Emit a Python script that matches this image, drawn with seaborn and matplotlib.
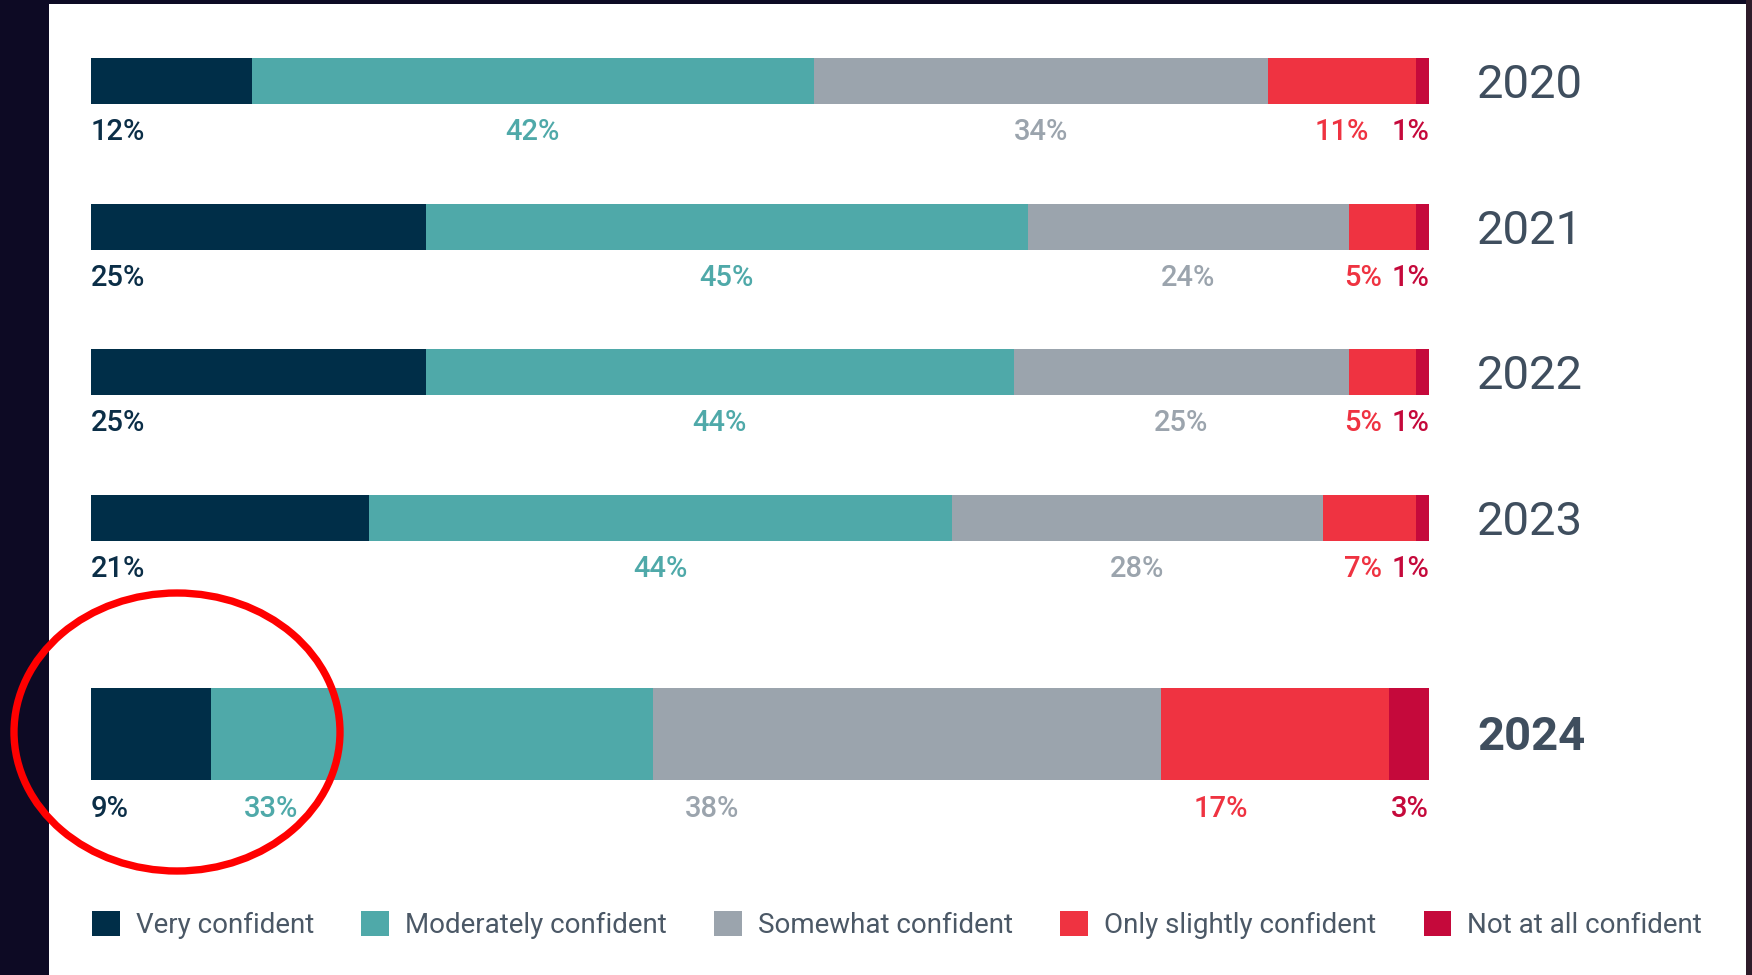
import numpy as np
import pandas as pd
import matplotlib
matplotlib.use("Agg")
import matplotlib.pyplot as plt
from matplotlib.patches import Rectangle, Ellipse, Patch
import seaborn as sns

# ---------------- data ----------------
years = ['2020', '2021', '2022', '2023', '2024']
very_confident = [12, 25, 25, 21, 9]
moderately_confident = [42, 45, 44, 44, 33]
somewhat_confident = [34, 24, 25, 28, 38]
only_slightly_confident = [11, 5, 5, 7, 17]
not_at_all_confident = [1, 1, 1, 1, 3]

categories = ['Very confident', 'Moderately confident', 'Somewhat confident',
              'Only slightly confident', 'Not at all confident']
colors = ['#002e48', '#4fa9a9', '#9ba4ad', '#ef3341', '#c5093b']
label_colors = ['#0b2e47', '#4fa9a9', '#9ba4ad', '#ef3341', '#c5093b']

series = [very_confident, moderately_confident, somewhat_confident,
          only_slightly_confident, not_at_all_confident]

# ---------------- style ----------------
sns.set_style('white')
plt.rcParams['font.family'] = ['Roboto', 'DejaVu Sans']

W, H = 1752, 975
DPI = 100
fig = plt.figure(figsize=(W / DPI, H / DPI), dpi=DPI, facecolor='#0d0a24')

# white panel + right dark strip
fig.add_artist(Rectangle((49 / W, 0), (1746 - 49) / W, (H - 4) / H,
                         transform=fig.transFigure, facecolor='white',
                         edgecolor='none', zorder=-5))
fig.add_artist(Rectangle((1746 / W, 0), 6 / W, 1, transform=fig.transFigure,
                         facecolor='#2e1c2a', edgecolor='none', zorder=-5))

vals = np.array(series, dtype=float).T          # rows = years
totals = vals.sum(axis=1, keepdims=True)
norm = vals / totals * 100.0
cum = np.cumsum(norm, axis=1)
starts = cum - norm

left = 91 / W
width = 1338 / W
ax1 = fig.add_axes([left, (H - 591) / H, width, 583 / H])
ax2 = fig.add_axes([left, (H - 807) / H, width, 146 / H])

groups = [(ax1, list(range(4)), 46 / 146, 51), (ax2, [4], 92 / 146, 75)]

px2pt = 72 / DPI

for ax, idx, bw, lab_off in groups:
    ylabels = [years[i] for i in idx]
    for k in range(len(categories) - 1, -1, -1):
        df = pd.DataFrame({'year': ylabels, 'value': cum[idx, k]})
        sns.barplot(data=df, x='value', y='year', orient='h', color=colors[k],
                    saturation=1, width=bw, ax=ax, linewidth=0, errorbar=None)
    ax.set_xlim(0, 100)
    n = len(idx)
    ax.set_ylim(n - 0.5, -0.5)
    ax.axis('off')
    ax.set_facecolor('none')

    for j, i in enumerate(idx):
        is_last_year = years[i] == '2024'
        for k in range(len(categories)):
            txt = f"{series[k][i]}%"
            if k == 0:
                x, ha = 0, 'left'
            elif k == len(categories) - 1:
                x, ha = 100, 'right'
            elif is_last_year:
                x, ha = starts[i, k] + 2.4, 'left'
            elif k == len(categories) - 2 and norm[i, k] < 8:
                x, ha = 96.5, 'right'
            else:
                x, ha = starts[i, k] + norm[i, k] / 2, 'center'
            ax.annotate(txt, xy=(x, j), xytext=(0, -lab_off * px2pt),
                        textcoords='offset points', ha=ha, va='center',
                        fontsize=21, fontweight='medium', color=label_colors[k],
                        annotation_clip=False)
        ax.annotate(years[i], xy=(100, j),
                    xytext=(48 * px2pt, (-4 if not is_last_year else -3) * px2pt),
                    textcoords='offset points', ha='left', va='center',
                    fontsize=34, color='#3f4e5e',
                    fontweight='bold' if is_last_year else 'normal',
                    annotation_clip=False)

# legend
handles = [Patch(facecolor=c, edgecolor='none') for c in colors]
fig.legend(handles, categories, loc='center left',
           bbox_to_anchor=(92 / W, 1 - 925 / H), ncol=5, frameon=False,
           fontsize=20, handlelength=1.0, handleheight=1.0,
           handletextpad=0.58, columnspacing=1.7, borderaxespad=0,
           borderpad=0, labelcolor='#4b5866')

# red highlight circle
fig.add_artist(Ellipse((177 / W, 1 - 732 / H), width=2 * 163 / W,
                       height=2 * 139 / H, transform=fig.transFigure,
                       fill=False, edgecolor='#ff0000', linewidth=5.3, zorder=20))

fig.savefig('out.png', dpi=DPI, facecolor=fig.get_facecolor())
